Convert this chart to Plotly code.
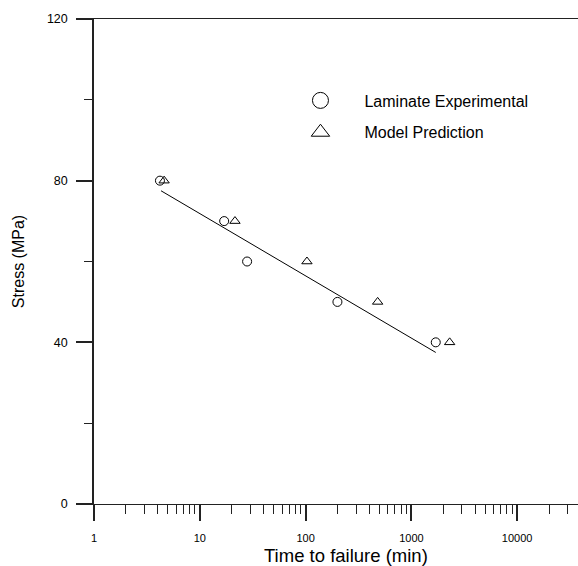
import numpy as np
import plotly.graph_objects as go

# Data
exp_time = [4.2, 17, 28, 200, 1700]
exp_stress = [80, 70, 60, 50, 40]
model_time = [4.6, 21.5, 103, 480, 2300]
model_stress = [80, 70, 60, 50, 40]
fit_time = [4.3, 1700]
fit_stress = [77.5, 37.5]

x_major = [1, 10, 100, 1000, 10000]
x_major_text = ["1", "10", "100", "1000", "10000"]
x_minor = [m * d for d in [1, 10, 100, 1000, 10000] for m in range(2, 10)]
y_major = [0, 40, 80, 120]
y_minor = [20, 60, 100]

fig = go.Figure()
fig.add_trace(go.Scatter(x=fit_time, y=fit_stress, mode="lines",
                         line=dict(color="black", width=1), showlegend=False))
fig.add_trace(go.Scatter(x=exp_time, y=exp_stress, mode="markers",
                         marker=dict(symbol="circle-open", size=9, color="black",
                                     line=dict(width=1)), showlegend=False))
fig.add_trace(go.Scatter(x=model_time, y=model_stress, mode="markers",
                         marker=dict(symbol="triangle-up-open", size=9, color="black",
                                     line=dict(width=1)), showlegend=False))
# legend entries
fig.add_trace(go.Scatter(x=[None], y=[None], mode="markers", name="Laminate Experimental",
                         legendgroup="a",
                         marker=dict(symbol="circle-open", size=16, color="black",
                                     line=dict(width=1))))
fig.add_trace(go.Scatter(x=[None], y=[None], mode="markers", name="Model Prediction",
                         legendgroup="b",
                         marker=dict(symbol="triangle-up-open", size=16, color="black",
                                     line=dict(width=1))))

axis_color = "#222"
fig.update_layout(
    width=578, height=566,
    margin=dict(l=94, r=0, t=19, b=62),
    paper_bgcolor="white", plot_bgcolor="white",
    font=dict(family="Liberation Sans, Arial, sans-serif", color="black"),
    legend=dict(x=0.377, y=0.867, xanchor="left", yanchor="top",
                traceorder="grouped", tracegroupgap=8,
                font=dict(size=16, color="black"), itemwidth=78,
                bgcolor="rgba(0,0,0,0)"),
    xaxis=dict(type="log", range=[0, 4.575], showgrid=False, zeroline=False,
               showline=True, linecolor=axis_color, linewidth=1, mirror=True,
               tickvals=x_major, ticktext=x_major_text, ticks="outside",
               ticklen=16, tickcolor=axis_color, tickwidth=1.5,
               tickfont=dict(size=11, color="black"), ticklabelstandoff=8,
               minor=dict(tickvals=x_minor, ticks="outside", ticklen=9,
                          tickcolor=axis_color, tickwidth=1)),
    yaxis=dict(range=[0, 120], showgrid=False, zeroline=False,
               showline=True, linecolor=axis_color, linewidth=1.5,
               tickvals=y_major, ticks="outside", ticklen=16, tickcolor=axis_color,
               tickwidth=1.5, tickfont=dict(size=12.5, color="black"), ticklabelstandoff=6,
               minor=dict(tickvals=y_minor, ticks="outside", ticklen=8,
                          tickcolor=axis_color, tickwidth=1),
               title=dict(text="Stress (MPa)", font=dict(size=16, color="black"),
                          standoff=18)),
    annotations=[dict(text="Time to failure (min)", xref="paper", yref="paper",
                      x=0.5207, y=-0.1052, xanchor="center", yanchor="middle",
                      showarrow=False, font=dict(size=18.5, color="black"))],
)

fig.write_html("out.html")
